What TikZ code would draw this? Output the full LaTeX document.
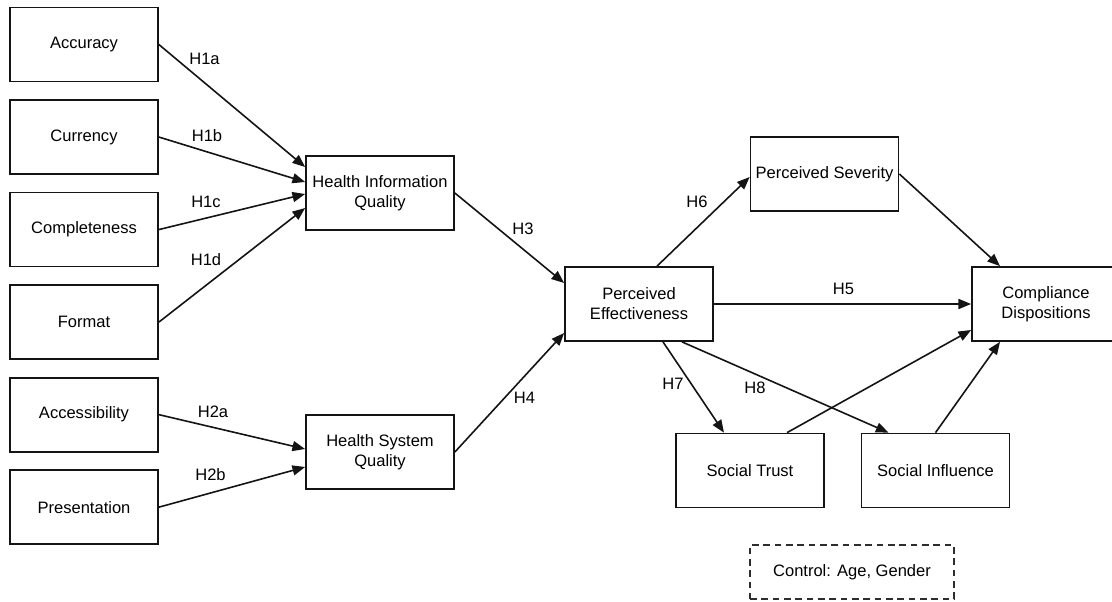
\documentclass[tikz,border=0pt]{standalone}
\usepackage{fontspec}
\setmainfont{Liberation Sans}
\usetikzlibrary{positioning,arrows.meta,calc}
\definecolor{BoxLine}{RGB}{20,20,20}
\definecolor{DashLine}{RGB}{45,45,45}
\tikzset{
  flow/.style={-{Triangle[length=9.5pt,width=7.5pt]},line width=1.2pt,draw=BoxLine},
  box/.style={draw=BoxLine,line width=1.3pt,fill=white,minimum width=111pt,
    minimum height=55.5pt,align=center,inner sep=1pt,font=\fontsize{12.4}{15}\selectfont},
  dashbox/.style={draw=DashLine,line width=1.2pt,dash pattern=on 5pt off 3.5pt,
    minimum width=153pt,minimum height=40.5pt,align=center,font=\fontsize{12.4}{15}\selectfont},
  hlabel/.style={inner sep=0pt,font=\fontsize{12.4}{15}\selectfont}
}
\begin{document}
\begin{tikzpicture}[x=0.75pt,y=-0.75pt,node distance=12.6pt]
  \clip (0,0) rectangle (1112,601);
  % dimensions on the left
  \node[box] (acc) at (84,44.5) {Accuracy};
  \node[box,below=of acc] (cur) {Currency};
  \node[box,below=of cur] (compl) {Completeness};
  \node[box,below=of compl] (fmt) {Format};
  \node[box,below=of fmt] (accs) {Accessibility};
  \node[box,below=of accs] (pres) {Presentation};

  % quality constructs
  \node[box] (hiq) at (380,193) {Health Information\\Quality};
  \node[box] (hsq) at (380,452) {Health System\\Quality};

  % right part
  \node[box] (pe) at (639,304) {Perceived\\Effectiveness};
  \node[box] (ps) at (824.5,174) {Perceived Severity};
  \node[box] (cd) at (1046,304) {Compliance\\Dispositions};
  \node[box] (st) at (750,470.5) {Social Trust};
  \node[box] (si) at (935.5,470.5) {Social Influence};
  \node[dashbox] (ctrl) at (852,572) {Control: Age, Gender};

  \draw[flow] (acc.east) -- ($(hiq.west)+(0,-26)$);
  \draw[flow] (cur.east) -- ($(hiq.west)+(0,-11)$);
  \draw[flow] (compl.east) -- ($(hiq.west)+(0,1)$);
  \draw[flow] (fmt.east) -- ($(hiq.west)+(0,15)$);
  \draw[flow] (accs.east) -- ($(hsq.west)+(0,-3)$);
  \draw[flow] (pres.east) -- ($(hsq.west)+(0,15)$);
  \draw[flow] (hiq.east) -- ($(pe.west)+(0,-21)$);
  \draw[flow] (hsq.east) -- ($(pe.west)+(0,29)$);
  \draw[flow] ($(pe.north)+(18,0)$) -- ($(ps.west)+(0,3)$);
  \draw[flow] (pe.east) -- (cd.west);
  \draw[flow] (ps.east) -- ($(cd.north)+(-46,0)$);
  \draw[flow] ($(pe.south)+(24,0)$) -- ($(st.north)+(-26,0)$);
  \draw[flow] ($(pe.south)+(43,0)$) -- ($(si.north)+(-47,0)$);
  \draw[flow] ($(st.north)+(37,0)$) -- ($(cd.west)+(0,26)$);
  \draw[flow] (si.north) -- ($(cd.south)+(-46,0)$);

  % hypothesis labels
  \node[hlabel] (h1a) at (204.5,58.5) {H1a};
  \node[hlabel] (h1b) at (207,135.5) {H1b};
  \node[hlabel] (h1c) at (206,201.5) {H1c};
  \node[hlabel] (h1d) at (206,259.5) {H1d};
  \node[hlabel] (h2a) at (213,412) {H2a};
  \node[hlabel] (h2b) at (210.5,474.5) {H2b};
  \node[hlabel] (h3) at (523,228.5) {H3};
  \node[hlabel] (h4) at (524.5,397.5) {H4};
  \node[hlabel] (h5) at (843.5,288.5) {H5};
  \node[hlabel] (h6) at (697,202) {H6};
  \node[hlabel] (h7) at (673,384) {H7};
  \node[hlabel] (h8) at (755,387.5) {H8};
\end{tikzpicture}
\end{document}
